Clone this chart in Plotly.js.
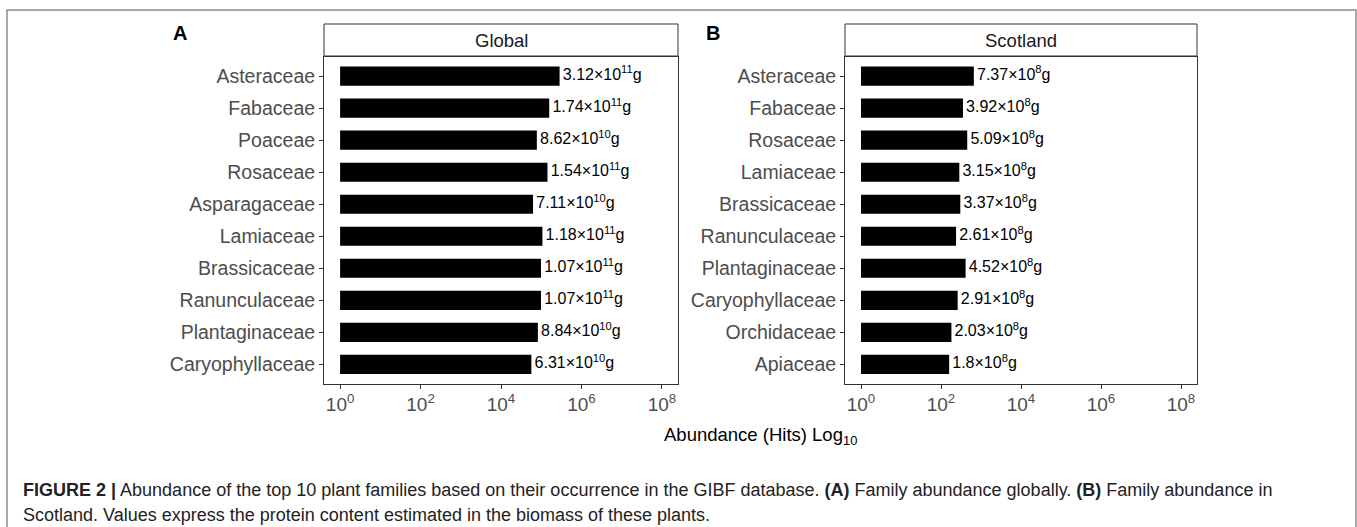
<!DOCTYPE html>
<html>
<head>
<meta charset="utf-8">
<script src="https://cdn.plot.ly/plotly-3.0.1.min.js"></script>
<style>
  html, body { margin: 0; padding: 0; background: #fff; }
  #chart { width: 1357px; height: 527px; }
</style>
</head>
<body>
<div id="chart"></div>
<script>
// ---- Data ----
const globalFamilies = ["Asteraceae", "Fabaceae", "Poaceae", "Rosaceae", "Asparagaceae",
  "Lamiaceae", "Brassicaceae", "Ranunculaceae", "Plantaginaceae", "Caryophyllaceae"];
const globalHits = [286000, 158000, 77800, 143000, 62600, 107000, 98600, 98600, 82500, 56800];
const globalLabels = ["3.12×10<sup>11</sup>g", "1.74×10<sup>11</sup>g", "8.62×10<sup>10</sup>g",
  "1.54×10<sup>11</sup>g", "7.11×10<sup>10</sup>g", "1.18×10<sup>11</sup>g", "1.07×10<sup>11</sup>g",
  "1.07×10<sup>11</sup>g", "8.84×10<sup>10</sup>g", "6.31×10<sup>10</sup>g"];

const scotFamilies = ["Asteraceae", "Fabaceae", "Rosaceae", "Lamiaceae", "Brassicaceae",
  "Ranunculaceae", "Plantaginaceae", "Caryophyllaceae", "Orchidaceae", "Apiaceae"];
const scotHits = [661, 353, 452, 286, 303, 237, 411, 260, 181, 159];
const scotLabels = ["7.37×10<sup>8</sup>g", "3.92×10<sup>8</sup>g", "5.09×10<sup>8</sup>g",
  "3.15×10<sup>8</sup>g", "3.37×10<sup>8</sup>g", "2.61×10<sup>8</sup>g", "4.52×10<sup>8</sup>g",
  "2.91×10<sup>8</sup>g", "2.03×10<sup>8</sup>g", "1.8×10<sup>8</sup>g"];

const tickVals = [1, 1e2, 1e4, 1e6, 1e8];
const tickText = ["10<sup>0</sup>", "10<sup>2</sup>", "10<sup>4</sup>", "10<sup>6</sup>", "10<sup>8</sup>"];
const panelTitles = ["Global", "Scotland"];
const panelLetters = ["A", "B"];
const xTitle = "Abundance (Hits) Log<sub>10</sub>";
const caption1 = "<b>FIGURE 2 |</b> Abundance of the top 10 plant families based on their occurrence in the GIBF database. <b>(A)</b> Family abundance globally. <b>(B)</b> Family abundance in";
const caption2 = "Scotland. Values express the protein content estimated in the biomass of these plants.";

// ---- Layout helpers (pixel -> paper) ----
const W = 1357, H = 527;
const px = v => v / W;
const py = v => 1 - v / H;

const FONT = "Liberation Sans, Arial, Helvetica, sans-serif";

function bars(fam, hits, xa, ya) {
  return {
    type: "bar", orientation: "h", y: fam, x: hits, base: 1,
    xaxis: xa, yaxis: ya, width: 0.6,
    marker: { color: "#000000", line: { width: 0 } },
    hoverinfo: "x+y", showlegend: false
  };
}
function labels(fam, hits, text, xa, ya) {
  return {
    type: "scatter", mode: "text", y: fam, x: hits,
    text: text.map(t => "\u2009" + t),
    textposition: "middle right", cliponaxis: false,
    textfont: { family: FONT, size: 16, color: "#000000" },
    xaxis: xa, yaxis: ya, hoverinfo: "skip", showlegend: false
  };
}

const data = [
  bars(globalFamilies, globalHits, "x", "y"),
  labels(globalFamilies, globalHits, globalLabels, "x", "y"),
  bars(scotFamilies, scotHits, "x2", "y2"),
  labels(scotFamilies, scotHits, scotLabels, "x2", "y2")
];

const panelTop = 57, panelBottom = 383.5;
const stripTop = 24, stripBottom = 56;
const p1 = [324, 678], p2 = [845, 1197];

function xaxis(dom, anchor) {
  return {
    domain: [px(dom[0]), px(dom[1])], anchor: anchor,
    type: "log", range: [-0.4, 8.4],
    tickvals: tickVals, ticktext: tickText,
    ticks: "outside", ticklen: 4, tickwidth: 1, tickcolor: "#333333",
    tickfont: { family: FONT, size: 19, color: "#4d4d4d" },
    showgrid: false, zeroline: false,
    showline: true, linecolor: "#333333", linewidth: 1, mirror: true,
    fixedrange: true
  };
}
function yaxis(fam, anchor) {
  return {
    domain: [py(panelBottom), py(panelTop)], anchor: anchor,
    type: "category", categoryorder: "array", categoryarray: fam,
    range: [fam.length - 0.4, -0.6],
    ticks: "outside", ticklen: 4, tickwidth: 1, tickcolor: "#333333",
    tickfont: { family: FONT, size: 19.5, color: "#4d4d4d" },
    showgrid: false, zeroline: false,
    showline: true, linecolor: "#333333", linewidth: 1, mirror: true,
    fixedrange: true
  };
}

const shapes = [
  // outer frame
  { type: "rect", xref: "paper", yref: "paper", x0: px(7), x1: px(1356), y0: py(10), y1: py(540),
    line: { color: "#8c8c8c", width: 1.5 }, fillcolor: "rgba(0,0,0,0)" },
  // strips
  { type: "rect", xref: "paper", yref: "paper", x0: px(p1[0]), x1: px(p1[1]), y0: py(stripBottom), y1: py(stripTop),
    line: { color: "#333333", width: 1 }, fillcolor: "#ffffff" },
  { type: "rect", xref: "paper", yref: "paper", x0: px(p2[0]), x1: px(p2[1]), y0: py(stripBottom), y1: py(stripTop),
    line: { color: "#333333", width: 1 }, fillcolor: "#ffffff" }
];

const stripMid = (stripTop + stripBottom) / 2;
const annotations = [
  { text: panelTitles[0], xref: "paper", yref: "paper", x: px((p1[0] + p1[1]) / 2), y: py(stripMid),
    xanchor: "center", yanchor: "middle", showarrow: false,
    font: { family: FONT, size: 18.5, color: "#1a1a1a" } },
  { text: panelTitles[1], xref: "paper", yref: "paper", x: px((p2[0] + p2[1]) / 2), y: py(stripMid),
    xanchor: "center", yanchor: "middle", showarrow: false,
    font: { family: FONT, size: 18.5, color: "#1a1a1a" } },
  { text: "<b>" + panelLetters[0] + "</b>", xref: "paper", yref: "paper", x: px(180), y: py(33),
    xanchor: "center", yanchor: "middle", showarrow: false,
    font: { family: FONT, size: 20, color: "#000000" } },
  { text: "<b>" + panelLetters[1] + "</b>", xref: "paper", yref: "paper", x: px(713), y: py(33),
    xanchor: "center", yanchor: "middle", showarrow: false,
    font: { family: FONT, size: 20, color: "#000000" } },
  { text: xTitle, xref: "paper", yref: "paper", x: px(760), y: py(436),
    xanchor: "center", yanchor: "middle", showarrow: false,
    font: { family: FONT, size: 18.5, color: "#000000" } },
  { text: caption1, xref: "paper", yref: "paper", x: px(21), y: py(490),
    xanchor: "left", yanchor: "middle", showarrow: false, align: "left",
    font: { family: FONT, size: 18, color: "#222222" } },
  { text: caption2, xref: "paper", yref: "paper", x: px(21), y: py(515),
    xanchor: "left", yanchor: "middle", showarrow: false, align: "left",
    font: { family: FONT, size: 18, color: "#222222" } }
];

const layout = {
  width: W, height: H,
  margin: { l: 0, r: 0, t: 0, b: 0, pad: 0 },
  paper_bgcolor: "#ffffff", plot_bgcolor: "#ffffff",
  showlegend: false, bargap: 0.4,
  xaxis: xaxis(p1, "y"),
  yaxis: yaxis(globalFamilies, "x"),
  xaxis2: xaxis(p2, "y2"),
  yaxis2: yaxis(scotFamilies, "x2"),
  shapes: shapes,
  annotations: annotations,
  font: { family: FONT }
};

Plotly.newPlot("chart", data, layout, { displayModeBar: false, staticPlot: true });
</script>
</body>
</html>
